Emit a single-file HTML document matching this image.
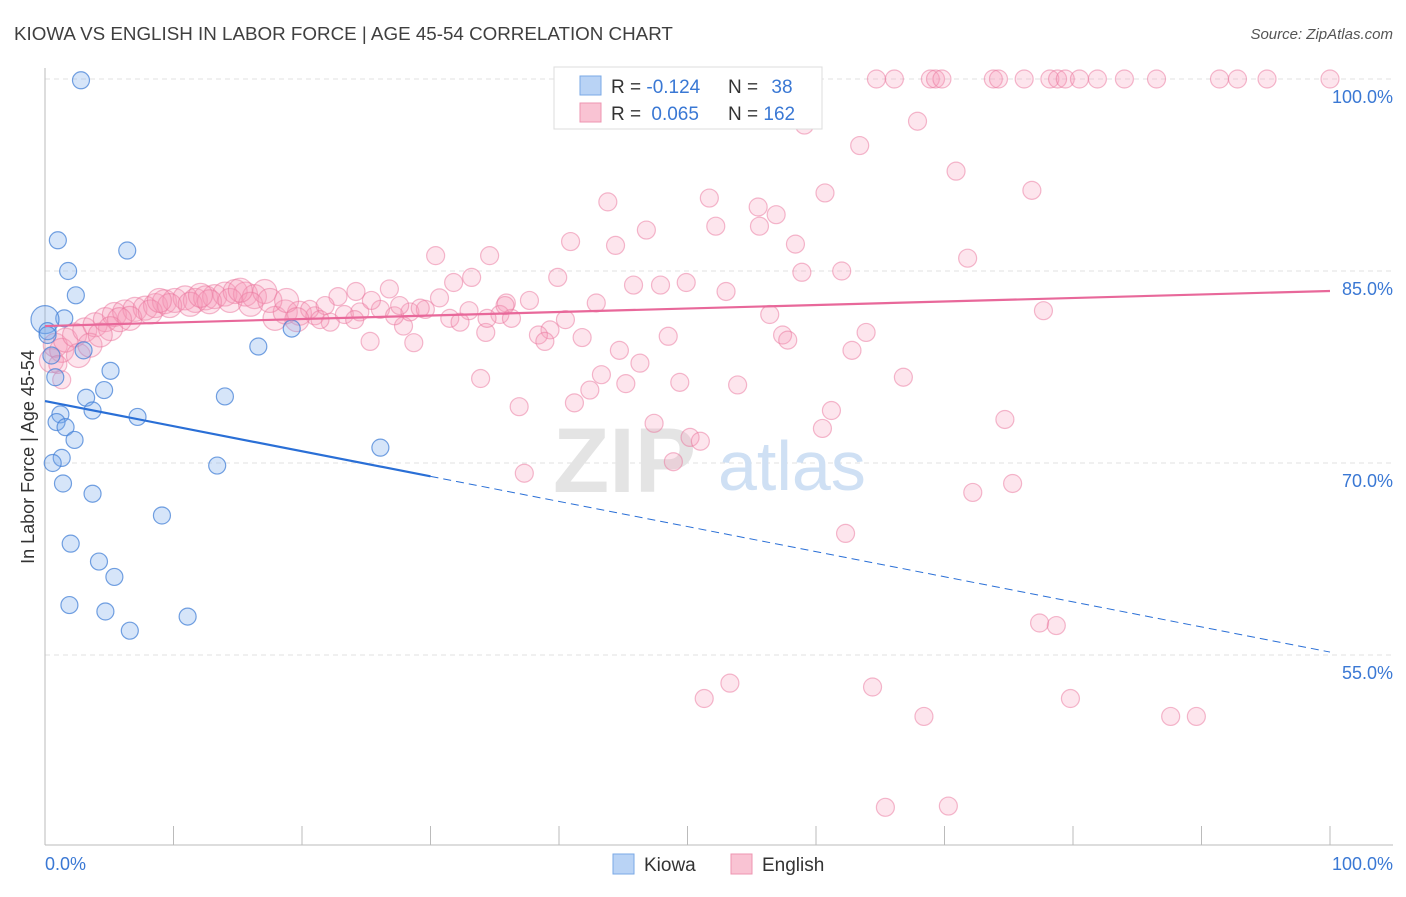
<!DOCTYPE html>
<html><head><meta charset="utf-8"><style>
body{margin:0;background:#fff;font-family:"Liberation Sans",sans-serif}
svg text{font-family:"Liberation Sans",sans-serif}
</style></head><body>
<svg id="chart" width="1406" height="892" viewBox="0 0 1406 892">
<text x="14" y="40" font-size="18.8" fill="#3f3f3f">KIOWA VS ENGLISH IN LABOR FORCE | AGE 45-54 CORRELATION CHART</text>
<text x="1393" y="39" font-size="15" fill="#555" font-style="italic" text-anchor="end">Source: ZipAtlas.com</text>
<g id="grid"></g>
<g>
<text x="553" y="492" font-size="92" font-family="Liberation Serif" fill="#e4e4e4" font-weight="bold">ZIP</text>
<text x="718" y="490" font-size="70" fill="#cfe0f4">atlas</text>
</g>
<g id="marks"></g>
<text transform="translate(34,457) rotate(-90)" font-size="18" fill="#333" text-anchor="middle">In Labor Force | Age 45-54</text>
<g>
<rect x="554" y="67" width="268" height="62" fill="#fff" stroke="#ddd"/>
<rect x="580" y="76" width="21" height="19" fill="#b9d3f5" stroke="#7aa8e6"/>
<rect x="580" y="103" width="21" height="19" fill="#f9c3d3" stroke="#ee94b0"/>
<text x="611" y="93" font-size="19" fill="#333">R = <tspan fill="#3a78d4">-0.124</tspan></text>
<text x="728" y="93" font-size="19" fill="#333">N = <tspan fill="#3a78d4" dx="8">38</tspan></text>
<text x="611" y="120" font-size="19" fill="#333">R = <tspan fill="#3a78d4" dx="5">0.065</tspan></text>
<text x="728" y="120" font-size="19" fill="#333">N = <tspan fill="#3a78d4">162</tspan></text>
</g>
<g>
<rect x="613" y="854" width="21" height="20" fill="#b9d3f5" stroke="#7aa8e6"/>
<text x="644" y="871" font-size="19" fill="#333">Kiowa</text>
<rect x="731" y="854" width="21" height="20" fill="#f9c3d3" stroke="#ee94b0"/>
<text x="762" y="871" font-size="19" fill="#333">English</text>
</g>
</svg>
<script>
const yTicks=[100,85,70,55];
const yTickLabels=["100.0%","85.0%","70.0%","55.0%"];
const xTickCount=10;
const kiowaX=[2.8,1.0,6.4,1.8,2.4,1.5,0.0,0.2,0.2,3.0,19.2,16.6,0.5,5.1,0.8,4.6,3.2,14.0,3.7,1.2,7.2,0.9,1.6,2.3,26.1,1.3,0.6,13.4,1.4,3.7,9.1,2.0,4.2,5.4,1.9,4.7,11.1,6.6];
const kiowaY=[99.9,87.4,86.6,85.0,83.1,81.3,81.2,80.3,80.0,78.8,80.5,79.1,78.4,77.2,76.7,75.7,75.1,75.2,74.1,73.8,73.6,73.2,72.8,71.8,71.2,70.4,70.0,69.8,68.4,67.6,65.9,63.7,62.3,61.1,58.9,58.4,58.0,56.9];
const englishX=[64.7,66.1,68.9,69.3,69.8,73.8,74.2,76.2,78.2,78.8,79.4,80.5,81.9,84.0,86.5,91.4,92.8,95.1,100,54.7,
59.1,63.4,67.9,70.9,60.7,76.8,43.8,51.7,55.5,56.9,52.2,55.6,46.8,40.9,44.4,58.4,30.4,34.6,71.8,39.9,33.2,31.8,45.8,47.9,49.9,58.9,62.0,53.0,26.8,30.7,22.8,24.2,37.7,42.9,35.9,35.4,36.3,33.0,34.3,40.5,56.4,77.7,39.3,38.4,41.8,38.9,48.5,57.4,57.8,63.9,25.3,28.7,27.9,44.7,62.8,46.3,43.3,33.9,45.2,53.9,66.8,36.9,41.2,42.4,49.4,61.2,60.5,47.4,74.7,50.2,51.0,48.9,37.3,72.2,75.3,62.3,77.4,78.7,53.3,51.3,64.4,79.8,68.4,87.6,89.6,65.4,70.3,
0.5,0.8,1.3,1.6,2.3,3.1,3.9,4.7,5.4,6.2,7.0,7.8,8.6,9.3,10.1,10.9,11.7,12.5,13.2,14.0,14.8,15.6,16.3,17.1,17.9,18.7,19.8,21.0,22.2,23.3,24.5,26.1,27.2,28.4,29.6,31.5,32.3,2.6,3.5,5.1,6.6,8.2,9.7,11.3,12.8,14.4,16.0,17.5,20.6,21.8,24.1,25.4,27.6,29.2,1.0,1.3,4.3,5.8,8.9,12.1,15.2,18.8,19.6,21.4,34.4,35.8];
const englishY=[100,100,100,100,100,100,100,100,100,100,100,100,100,100,100,100,100,100,100,99.7,
96.4,94.8,96.7,92.8,91.1,91.3,90.4,90.7,90.0,89.4,88.5,88.5,88.2,87.3,87.0,87.1,86.2,86.2,86.0,84.5,84.5,84.1,83.9,83.9,84.1,84.9,85.0,83.4,83.6,82.9,83.0,83.4,82.7,82.5,82.5,81.6,81.3,81.9,80.2,81.2,81.6,81.9,80.4,80.0,79.8,79.5,79.9,80.0,79.6,80.2,79.5,79.4,80.7,78.8,78.8,77.8,76.9,76.6,76.2,76.1,76.7,74.4,74.7,75.7,76.3,74.1,72.7,73.1,73.4,72.0,71.7,70.1,69.2,67.7,68.4,64.5,57.5,57.3,52.8,51.6,52.5,51.6,50.2,50.2,50.2,43.1,43.2,
78.0,79.2,78.8,79.6,80.0,80.4,80.8,81.2,81.6,81.8,82.0,82.1,82.3,82.6,82.7,82.9,82.7,82.9,83.0,83.2,83.4,83.2,83.0,83.4,81.3,81.8,81.7,81.5,81.0,81.6,81.8,82.0,81.5,81.8,82.0,81.3,81.0,78.4,79.2,80.5,81.3,81.8,82.3,82.4,82.6,82.7,82.4,82.7,82.0,82.3,81.2,82.7,82.3,82.1,77.7,76.5,80.0,81.2,82.7,83.1,83.5,82.7,81.2,81.2,81.3,82.3];
const kiowaTrend=[74.84,55.23];
const englishTrend=[80.7,83.44];
const kiowaSolidEnd=30;

const NS="http://www.w3.org/2000/svg";
const X0=45,X1=1330,YTOP=79,PPU=12.8,YBOT=845;
const sx=v=>X0+(X1-X0)*v/100;
const sy=v=>YTOP+(100-v)*PPU;
function mk(tag,attrs,parent){const e=document.createElementNS(NS,tag);for(const k in attrs)e.setAttribute(k,attrs[k]);parent.appendChild(e);return e;}
const grid=document.getElementById('grid'),marks=document.getElementById('marks');
yTicks.forEach((t,i)=>{
 const l=mk('line',{x1:X0,x2:1393,y1:sy(t),y2:sy(t),stroke:'#e2e2e2','stroke-dasharray':'5,4'},grid);
 
 
 const tx=mk('text',{x:1393,y:sy(t)+24,'font-size':18,fill:'#3a78d4','text-anchor':'end'},grid);
 tx.textContent=yTickLabels[i];
 
 
});
const ax=mk('line',{x1:X0,x2:X0,y1:68,y2:YBOT,stroke:'#bbb'},grid);


const bx=mk('line',{x1:X0,x2:1393,y1:YBOT,y2:YBOT,stroke:'#bbb'},grid);


for(let i=1;i<=xTickCount;i++){
 const t=mk('line',{x1:sx(i*10),x2:sx(i*10),y1:826,y2:YBOT,stroke:'#bbb'},grid);
 
 
}
const xl=mk('text',{x:45,y:870,'font-size':18,fill:'#3a78d4'},grid);xl.textContent='0.0%';


const xr=mk('text',{x:1393,y:870,'font-size':18,fill:'#3a78d4','text-anchor':'end'},grid);xr.textContent='100.0%';



const eTrendAt=x=>englishTrend[0]+(englishTrend[1]-englishTrend[0])*x/100;
englishX.forEach((x,i)=>{
 const y=englishY[i];
 const big=x<20&&Math.abs(y-eTrendAt(x))<3;
 const c=mk('circle',{cx:sx(x),cy:sy(y),r:big?12:9,fill:'rgba(246,150,182,0.25)',stroke:'rgba(233,115,155,0.5)','stroke-width':1.2},marks);
 
 
});
kiowaX.forEach((x,i)=>{
 const c=mk('circle',{cx:sx(x),cy:sy(kiowaY[i]),r:(i==6?14:8.5),fill:'rgba(120,170,235,0.3)',stroke:'rgba(70,130,215,0.75)','stroke-width':1.2},marks);
 
 
});
const kAt=x=>kiowaTrend[0]+(kiowaTrend[1]-kiowaTrend[0])*x/100;
const k1=mk('line',{x1:sx(0),y1:sy(kAt(0)),x2:sx(kiowaSolidEnd),y2:sy(kAt(kiowaSolidEnd)),stroke:'#2a6fd6','stroke-width':2.2},marks);


const k2=mk('line',{x1:sx(kiowaSolidEnd),y1:sy(kAt(kiowaSolidEnd)),x2:sx(100),y2:sy(kAt(100)),stroke:'#2a6fd6','stroke-width':1,'stroke-dasharray':'8,5'},marks);


const e1=mk('line',{x1:sx(0),y1:sy(eTrendAt(0)),x2:sx(100),y2:sy(eTrendAt(100)),stroke:'#e8689a','stroke-width':2.2},marks);


</script>
</body></html>
